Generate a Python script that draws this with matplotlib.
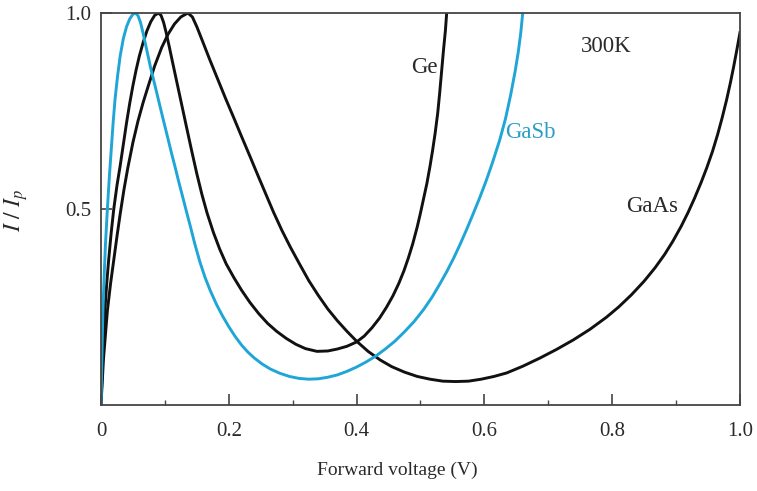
import numpy as np
import matplotlib
matplotlib.use("Agg")
import matplotlib.pyplot as plt
from matplotlib.ticker import MultipleLocator

plt.rcParams['font.family'] = ['Liberation Serif', 'DejaVu Serif']
plt.rcParams['mathtext.fontset'] = 'stix'

# values (forward voltage V, normalised current I/Ip)
ge_v = [0, 0.002, 0.004, 0.006, 0.009, 0.012, 0.016, 0.020, 0.025, 0.030, 0.035, 0.040,
        0.045, 0.050, 0.055, 0.060, 0.066, 0.072, 0.078, 0.084, 0.090, 0.094, 0.098, 0.102,
        0.107, 0.113, 0.120, 0.127, 0.134, 0.142, 0.150, 0.158, 0.166, 0.176, 0.186, 0.196,
        0.208, 0.220, 0.233, 0.247, 0.261, 0.275, 0.290, 0.305, 0.320, 0.338, 0.355, 0.370,
        0.385, 0.400, 0.412, 0.424, 0.436, 0.447, 0.457, 0.466, 0.474, 0.481, 0.488, 0.495,
        0.500, 0.504, 0.510, 0.515, 0.519, 0.523, 0.527, 0.530, 0.533, 0.536, 0.539, 0.541]
ge_i = [0, 0.09, 0.17, 0.24, 0.31, 0.37, 0.44, 0.50, 0.56, 0.61, 0.665, 0.72,
        0.77, 0.815, 0.855, 0.89, 0.925, 0.955, 0.978, 0.994, 1.0, 0.994, 0.976, 0.95,
        0.913, 0.867, 0.814, 0.761, 0.708, 0.648, 0.59, 0.537, 0.49, 0.44, 0.397, 0.36,
        0.325, 0.293, 0.262, 0.233, 0.208, 0.188, 0.17, 0.155, 0.144, 0.137, 0.138, 0.143,
        0.15, 0.161, 0.176, 0.197, 0.222, 0.25, 0.279, 0.31, 0.342, 0.375, 0.412, 0.455,
        0.49, 0.52, 0.565, 0.61, 0.65, 0.694, 0.745, 0.795, 0.85, 0.905, 0.955, 1.0]

gasb_v = [0, 0.001, 0.002, 0.003, 0.005, 0.007, 0.010, 0.013, 0.016, 0.019, 0.022, 0.026,
          0.030, 0.035, 0.040, 0.045, 0.050, 0.054, 0.058, 0.062, 0.066, 0.070, 0.074, 0.078,
          0.083, 0.090, 0.097, 0.104, 0.110, 0.116, 0.121, 0.128, 0.134, 0.140, 0.147, 0.155,
          0.163, 0.171, 0.181, 0.190, 0.200, 0.210, 0.220, 0.230, 0.240, 0.252, 0.265, 0.280,
          0.295, 0.310, 0.325, 0.340, 0.355, 0.370, 0.385, 0.400, 0.415, 0.430, 0.445, 0.460,
          0.475, 0.490, 0.505, 0.518, 0.530, 0.541, 0.552, 0.562, 0.572, 0.582, 0.593, 0.603,
          0.613, 0.624, 0.633, 0.641, 0.648, 0.653, 0.657, 0.660]
gasb_i = [0, 0.08, 0.17, 0.24, 0.33, 0.41, 0.50, 0.58, 0.65, 0.72, 0.78, 0.84,
          0.89, 0.935, 0.965, 0.985, 0.997, 1.0, 0.993, 0.975, 0.948, 0.918, 0.888, 0.858,
          0.825, 0.778, 0.731, 0.685, 0.645, 0.607, 0.574, 0.53, 0.492, 0.455, 0.41, 0.364,
          0.325, 0.292, 0.256, 0.228, 0.20, 0.175, 0.153, 0.135, 0.12, 0.105, 0.092, 0.081,
          0.073, 0.068, 0.066, 0.067, 0.071, 0.077, 0.086, 0.097, 0.11, 0.125, 0.143, 0.163,
          0.187, 0.213, 0.244, 0.275, 0.308, 0.34, 0.375, 0.41, 0.447, 0.486, 0.53, 0.573,
          0.62, 0.676, 0.73, 0.79, 0.85, 0.90, 0.95, 1.0]

gaas_v = [0, 0.002, 0.004, 0.007, 0.010, 0.015, 0.020, 0.025, 0.030, 0.036, 0.042, 0.050,
          0.058, 0.066, 0.074, 0.084, 0.095, 0.105, 0.115, 0.125, 0.136, 0.143, 0.150, 0.158,
          0.170, 0.183, 0.195, 0.208, 0.220, 0.233, 0.245, 0.258, 0.270, 0.283, 0.296, 0.310,
          0.325, 0.340, 0.355, 0.370, 0.385, 0.400, 0.418, 0.437, 0.455, 0.475, 0.495, 0.515,
          0.535, 0.555, 0.575, 0.595, 0.615, 0.635, 0.660, 0.687, 0.713, 0.739, 0.765, 0.791,
          0.810, 0.830, 0.850, 0.867, 0.882, 0.895, 0.908, 0.919, 0.929, 0.939, 0.948, 0.957,
          0.965, 0.972, 0.979, 0.985, 0.990, 0.995, 1.0]
gaas_i = [0, 0.06, 0.12, 0.18, 0.24, 0.31, 0.37, 0.43, 0.487, 0.55, 0.605, 0.67,
          0.725, 0.772, 0.814, 0.865, 0.912, 0.946, 0.972, 0.99, 1.0, 0.99, 0.965, 0.932,
          0.882, 0.83, 0.782, 0.732, 0.685, 0.635, 0.588, 0.538, 0.492, 0.446, 0.404, 0.362,
          0.318, 0.28, 0.245, 0.215, 0.188, 0.163, 0.137, 0.115, 0.098, 0.084, 0.073, 0.066,
          0.061, 0.06, 0.061, 0.066, 0.073, 0.082, 0.099, 0.12, 0.142, 0.166, 0.193, 0.224,
          0.25, 0.281, 0.316, 0.35, 0.384, 0.418, 0.456, 0.492, 0.528, 0.567, 0.605, 0.647,
          0.69, 0.732, 0.778, 0.822, 0.862, 0.905, 0.95]

xticks = [0, 0.2, 0.4, 0.6, 0.8, 1.0]
xticklabels = ['0', '0.2', '0.4', '0.6', '0.8', '1.0']
yticks = [0.5, 1.0]
yticklabels = ['0.5', '1.0']

blue = '#1fa6d6'
txt = '#2a2a2a'

fig = plt.figure(figsize=(7.57, 4.91), dpi=100)
ax = fig.add_axes([0.1334, 0.175, 0.8441, 0.7985])

ax.plot(ge_v, ge_i, color='#111111', lw=2.1, solid_joinstyle='round')
ax.plot(gaas_v, gaas_i, color='#111111', lw=2.1, solid_joinstyle='round')
ax.plot(gasb_v, gasb_i, color=blue, lw=2.1, solid_joinstyle='round')

ax.set_xlim(0, 1.0)
ax.set_ylim(0, 1.0)
ax.set_xticks(xticks)
ax.set_xticklabels(xticklabels)
ax.xaxis.set_minor_locator(MultipleLocator(0.1))
ax.set_yticks(yticks)
ax.set_yticklabels(yticklabels)
ax.tick_params(axis='x', which='major', direction='in', length=8, width=1.2,
               pad=12, labelsize=15, colors='#444444', labelcolor=txt)
ax.tick_params(axis='x', which='minor', direction='in', length=3.5, width=1.0, colors='#444444')
ax.tick_params(axis='y', which='major', direction='in', length=8, width=1.2,
               pad=7, labelsize=15, colors='#444444', labelcolor=txt)
for s in ax.spines.values():
    s.set_color('#444444')
    s.set_linewidth(1.3)

ax.set_xlabel('Forward voltage (V)', fontsize=14, color=txt)
ax.xaxis.set_label_coords(0.463, -0.145)
ax.set_ylabel(r'$I\ /\ I_p$', fontsize=17, color=txt)
ax.yaxis.set_label_coords(-0.111, 0.497)

ax.text(0.527, 0.862, 'Ge', ha='right', va='center', fontsize=16.5, color=txt)
ax.text(0.633, 0.694, 'GaSb', ha='left', va='center', fontsize=16.5, color='#2a9fc6')
ax.text(0.751, 0.914, '300K', ha='left', va='center', fontsize=16.5, color=txt)
ax.text(0.822, 0.506, 'GaAs', ha='left', va='center', fontsize=16.5, color=txt)

fig.savefig('out.png', dpi=100)
